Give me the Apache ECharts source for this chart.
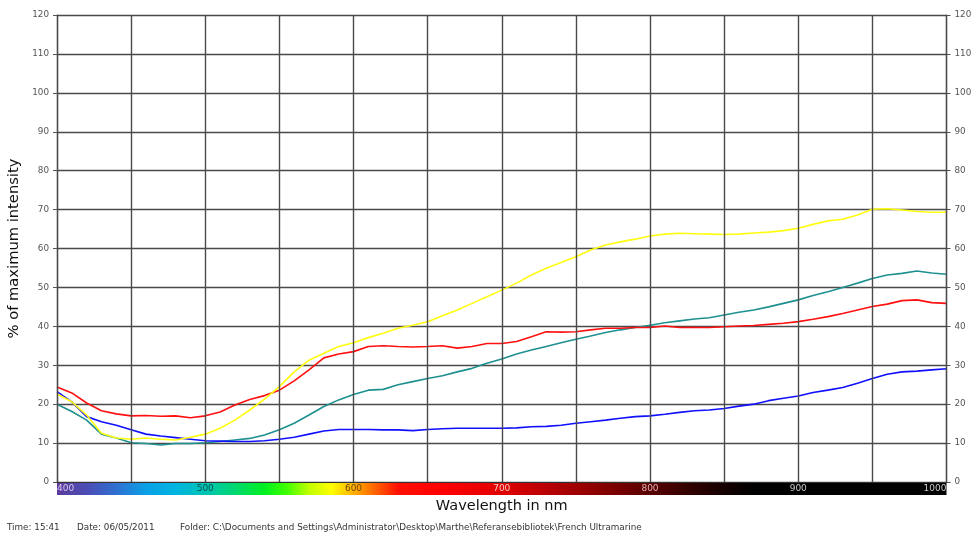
<!DOCTYPE html>
<html><head><meta charset="utf-8">
<script src="https://cdn.jsdelivr.net/npm/echarts@6/dist/echarts.min.js"></script>
<style>html,body{margin:0;padding:0;background:#fff;}#c{width:976px;height:536px;}</style>
</head><body><div id="c"></div>
<script>
// ---- DATA ----
const wavelengths = [400,410,420,430,440,450,460,470,480,490,
  500,510,520,530,540,550,560,570,580,590,
  600,610,620,630,640,650,660,670,680,690,
  700,710,720,730,740,750,760,770,780,790,
  800,810,820,830,840,850,860,870,880,890,
  900,910,920,930,940,950,960,970,980,990,1000];
const redSeries = [24.4,22.9,20.3,18.3,17.5,17.0,17.1,16.9,17.0,16.5,
  17.0,18.0,19.8,21.2,22.2,23.6,26.0,28.8,31.9,32.9,
  33.5,34.8,35.0,34.8,34.7,34.8,35.0,34.4,34.8,35.6,
  35.6,36.1,37.3,38.6,38.5,38.6,39.1,39.5,39.5,39.7,
  39.7,40.1,39.7,39.7,39.7,39.9,40.1,40.2,40.5,40.8,
  41.2,41.8,42.5,43.3,44.2,45.1,45.7,46.6,46.8,46.1,45.9];
const yellowSeries = [22.6,20.6,17.2,12.5,11.3,11.0,11.3,11.0,10.8,11.5,
  12.3,13.8,15.9,18.5,21.3,24.5,28.3,31.3,33.1,34.8,
  35.8,37.1,38.2,39.5,40.3,41.2,42.7,44.2,45.9,47.6,
  49.3,51.1,53.2,54.9,56.4,57.9,59.6,60.9,61.7,62.4,
  63.2,63.7,63.9,63.8,63.7,63.6,63.7,64.0,64.2,64.6,
  65.2,66.2,67.1,67.5,68.6,70.1,70.2,69.9,69.5,69.3,69.3];
const tealSeries = [20.0,18.1,15.9,12.3,11.3,10.1,9.9,9.5,9.9,9.9,
  10.1,10.4,10.8,11.2,12.1,13.4,15.1,17.2,19.4,21.1,
  22.5,23.6,23.8,25.0,25.8,26.6,27.3,28.3,29.2,30.5,
  31.6,32.9,33.9,34.8,35.8,36.7,37.5,38.4,39.1,39.7,
  40.3,40.9,41.4,41.9,42.2,42.9,43.6,44.2,45.0,45.9,
  46.8,47.9,48.9,50.0,51.1,52.3,53.2,53.6,54.2,53.7,53.4];
const blueSeries = [23.2,20.6,16.8,15.5,14.6,13.4,12.3,11.8,11.4,11.0,
  10.6,10.5,10.4,10.4,10.6,11.0,11.5,12.3,13.1,13.5,
  13.5,13.5,13.4,13.4,13.2,13.5,13.7,13.8,13.8,13.8,
  13.8,13.9,14.2,14.3,14.6,15.1,15.5,15.9,16.4,16.8,
  17.0,17.4,17.9,18.3,18.5,18.9,19.5,20.0,20.9,21.5,
  22.1,23.0,23.6,24.3,25.4,26.6,27.7,28.3,28.5,28.8,29.1];
const xLabelValues = [400,500,600,700,800,900,1000];
const xAxisTitle = 'Wavelength in nm';
const yAxisTitle = '% of maximum intensity';
const footerTime = 'Time: 15:41';
const footerDate = 'Date: 06/05/2011';
const footerFolder = 'Folder: C:\\Documents and Settings\\Administrator\\Desktop\\Marthe\\Referansebibliotek\\French Ultramarine';

// ---- STYLE ----
const spectrumStops = [[400,'#5c3c9c'],[420,'#4a4cb4'],[440,'#2f70d0'],[460,'#0aa0e6'],[480,'#00b4e0'],
  [500,'#00c4b4'],[520,'#00d870'],[540,'#00f020'],[555,'#40ff00'],[570,'#c0ff00'],[585,'#ffff00'],
  [600,'#ffb000'],[615,'#ff6000'],[630,'#ff1000'],[660,'#ff0000'],[700,'#e00000'],[750,'#a00000'],
  [800,'#580000'],[840,'#200000'],[870,'#000000'],[1000,'#000000']];
const labelColors = {400:'#d8c8f0',500:'#005050',600:'#6a4a00',700:'#ffc8c8',800:'#e0b0b0',900:'#c8c8c8',1000:'#c8c8c8'};
const FONT = 'DejaVu Sans';

function pairs(arr){ return wavelengths.map((w,i)=>[w,arr[i]]); }
function lineSeries(name, arr, color){
  return {name, type:'line', data:pairs(arr), showSymbol:false, smooth:false,
    lineStyle:{color, width:1.6}, itemStyle:{color}, z:3};
}

const chart = echarts.init(document.getElementById('c'), null, {renderer:'canvas'});
const yAxisCommon = {
  type:'value', min:0, max:120, interval:10,
  axisLine:{show:true, lineStyle:{color:'#333', width:1.2}},
  axisTick:{show:true, length:4, lineStyle:{color:'#555'}},
  axisLabel:{fontFamily:FONT, fontSize:8.8, color:'#555', margin:8}
};
chart.setOption({
  animation:false,
  backgroundColor:'#fff',
  grid:{left:57, right:29.5, top:15, bottom:54, containLabel:false, outerBoundsMode:'none'},
  xAxis:{
    type:'value', min:400, max:1000, interval:50, z:10,
    axisLine:{show:true, onZero:false, lineStyle:{color:'#333', width:1.2}},
    axisTick:{show:false},
    splitLine:{show:true, lineStyle:{color:'#4a4a4a', width:1.4}},
    axisLabel:{
      fontFamily:FONT, fontSize:9, margin:2.5, showMinLabel:true, showMaxLabel:true,
      alignMinLabel:'left', alignMaxLabel:'right',
      formatter:v => xLabelValues.indexOf(v) >= 0 ? String(v) : '',
      color:v => labelColors[v] || '#ccc'
    },
    name:xAxisTitle, nameLocation:'middle', nameGap:10,
    nameTextStyle:{fontFamily:FONT, fontSize:14.5, color:'#111'}
  },
  yAxis:[
    Object.assign({}, yAxisCommon, {position:'left',
      splitLine:{show:true, lineStyle:{color:'#4a4a4a', width:1.4}},
      name:yAxisTitle, nameLocation:'middle', nameGap:31,
      nameTextStyle:{fontFamily:FONT, fontSize:14.7, color:'#111'}}),
    Object.assign({}, yAxisCommon, {position:'right', splitLine:{show:false}})
  ],
  series:[
    lineSeries('teal', tealSeries, '#1f9090'),
    lineSeries('blue', blueSeries, '#1010ff'),
    lineSeries('red', redSeries, '#ff1010'),
    lineSeries('yellow', yellowSeries, '#ffff10')
  ]
});

// spectrum bar beneath the x axis, positioned via the axis scale
const x0 = chart.convertToPixel({xAxisIndex:0}, 400);
const x1 = chart.convertToPixel({xAxisIndex:0}, 1000);
const y0 = chart.convertToPixel({yAxisIndex:0}, 0);
chart.setOption({
  graphic:[
    {type:'rect', z:1, shape:{x:x0, y:y0+1, width:x1-x0, height:12},
      style:{fill:new echarts.graphic.LinearGradient(0,0,1,0,
        spectrumStops.map(s=>({offset:(s[0]-400)/600, color:s[1]})))}},
    {type:'text', left:7, top:523, style:{text:footerTime, font:'8.8px "'+FONT+'"', fill:'#333'}},
    {type:'text', left:77, top:523, style:{text:footerDate, font:'8.8px "'+FONT+'"', fill:'#333'}},
    {type:'text', left:180, top:523, style:{text:footerFolder, font:'8.8px "'+FONT+'"', fill:'#333'}}
  ]
});
</script></body></html>
